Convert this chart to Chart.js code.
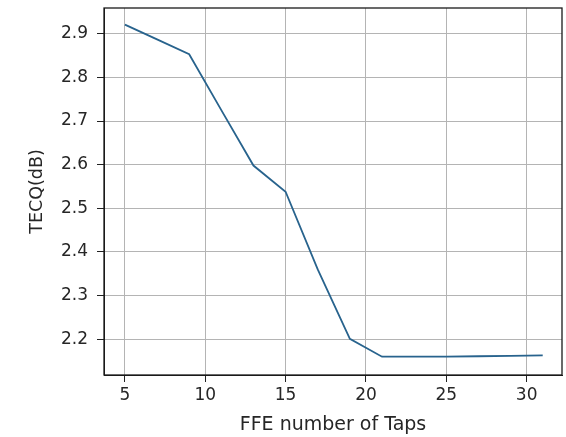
<!DOCTYPE html>
<html>
<head>
  <meta charset="UTF-8" />
  <title>TECQ vs FFE taps</title>
  <script src="https://cdn.jsdelivr.net/npm/chart.js"></script>
  <style>
    html, body { margin: 0; padding: 0; background: #ffffff; }
    #wrap { width: 566px; height: 437px; }
  </style>
</head>
<body>
  <div id="wrap"><canvas id="chart" width="566" height="437"></canvas></div>
  <script>
    // data
    const taps = [5, 7, 9, 11, 13, 15, 17, 19, 21, 23, 25, 27, 29, 31];
    const tecq = [2.921, 2.887, 2.853, 2.725, 2.598, 2.538, 2.36, 2.201, 2.160, 2.160, 2.160, 2.161, 2.162, 2.163];
    const xTicks = [5, 10, 15, 20, 25, 30];
    const yTicks = [2.2, 2.3, 2.4, 2.5, 2.6, 2.7, 2.8, 2.9];

    const tickFont = { family: 'DejaVu Sans', size: 17 };
    const textColor = '#262626';

    // frame round the plot area
    const frame = {
      id: 'frame',
      afterDraw(chart) {
        const a = chart.chartArea, c = chart.ctx;
        c.save();
        c.strokeStyle = '#1a1a1a';
        c.lineWidth = 1.3;
        c.strokeRect(a.left, a.top, a.right - a.left, a.bottom - a.top);
        c.restore();
      }
    };

    const noEdgePad = s => { s.paddingTop = 0; s.paddingBottom = 0; s.paddingLeft = 0; s.paddingRight = 0; };

    new Chart(document.getElementById('chart'), {
      type: 'line',
      data: {
        datasets: [{
          data: taps.map((t, i) => ({ x: t, y: tecq[i] })),
          borderColor: '#28638d',
          borderWidth: 1.8,
          pointRadius: 0,
          fill: false,
          tension: 0
        }]
      },
      options: {
        responsive: false,
        animation: false,
        layout: { padding: { top: 8, right: 4 } },
        plugins: { legend: { display: false }, tooltip: { enabled: false } },
        scales: {
          x: {
            type: 'linear',
            min: 3.7, max: 32.2,
            afterBuildTicks: s => { s.ticks = xTicks.map(v => ({ value: v })); },
            afterFit: s => { s.height = 62; noEdgePad(s); },
            grid: { color: '#b4b4b4', lineWidth: 1, tickColor: '#222', tickLength: 7 },
            border: { color: '#1a1a1a' },
            ticks: { color: textColor, font: tickFont, padding: 3, maxRotation: 0 },
            title: { display: true, text: 'FFE number of Taps', color: textColor, font: { family: 'DejaVu Sans', size: 19 }, padding: { top: 0, bottom: 1 } }
          },
          y: {
            min: 2.118, max: 2.959,
            afterBuildTicks: s => { s.ticks = yTicks.map(v => ({ value: v })); },
            afterFit: s => { s.width = 104; noEdgePad(s); },
            grid: { color: '#b4b4b4', lineWidth: 1, tickColor: '#222', tickLength: 7 },
            border: { color: '#1a1a1a' },
            ticks: { color: textColor, font: tickFont, padding: 9, callback: v => v.toFixed(1) },
            title: { display: true, text: 'TECQ(dB)', color: textColor, font: { family: 'DejaVu Sans', size: 17.5 }, padding: { top: 27, bottom: 0 } }
          }
        }
      },
      plugins: [frame]
    });
  </script>
</body>
</html>
